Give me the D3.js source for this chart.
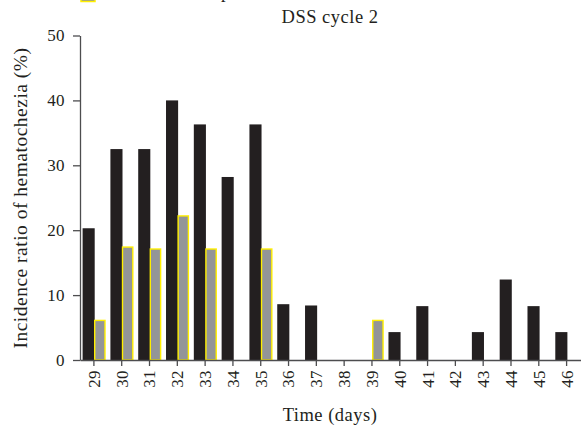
<!DOCTYPE html>
<meta charset='utf-8'>
<html>
  <style>
    body { margin: 0; background: #fff; }
    text { font-family: "Liberation Serif", "Times New Roman", serif; fill: #231f20; }
    .axis path, .axis line { stroke: #4d4d4f; stroke-width: 1.3px; }
    .axis text { font-size: 17px; fill: #231f20; letter-spacing: 0.4px; }
    .lbl { font-size: 18.5px; letter-spacing: 0.5px; }
  </style>
  <head>
    <script src="https://cdn.jsdelivr.net/npm/d3@7/dist/d3.min.js"></script>
  </head>
  <body>
    <div id="chart"></div>
    <script type="text/javascript">
      var days = [29,30,31,32,33,34,35,36,37,38,39,40,41,42,43,44,45,46],
        dssOnly = [20.3,32.5,32.5,40,36.3,28.2,36.3,8.6,8.4,0,0,4.3,8.3,0,4.3,12.4,8.3,4.3],
        treated = [6.1,17.4,17.1,22.2,17.1,0,17.1,0,0,0,6.1,0,0,0,0,0,0,0],
        yTicks = [0,10,20,30,40,50],
        series = ["dss", "treated"];

      var width = 581, height = 436;
      var svg = d3.select("#chart").append("svg")
        .attr("width", width)
        .attr("height", height);

      var x = d3.scaleBand().domain(days).range([80, 580.5]);
      var sub = d3.scaleBand().domain(series).range([2.6, 25.6]);
      var y = d3.scaleLinear().domain([0, 50]).range([360, 35.5]);

      var rows = days.map(function(d, i) {
        return {day: d, dss: dssOnly[i], treated: treated[i]};
      });

      // legend (cut off at the top of the figure, as in the source)
      svg.append("rect")
        .attr("x", 81).attr("y", -12)
        .attr("width", 14).attr("height", 13.5)
        .style("fill", "#939598")
        .style("stroke", "#ffef00")
        .style("stroke-width", 1.5);
      svg.append("text")
        .attr("class", "lbl")
        .attr("x", 131).attr("y", -2)
        .text("DSS + compound");

      svg.append("text")
        .attr("class", "lbl")
        .attr("x", 330).attr("y", 23)
        .attr("text-anchor", "middle")
        .text("DSS cycle 2");

      var g = svg.selectAll(".day").data(rows).enter().append("g")
        .attr("class", "day")
        .attr("transform", function(d) { return "translate(" + x(d.day) + ",0)"; });

      g.filter(function(d) { return d.dss > 0; }).append("rect")
        .attr("x", sub("dss"))
        .attr("width", sub.bandwidth() + 0.6)
        .attr("y", function(d) { return y(d.dss); })
        .attr("height", function(d) { return y(0) - y(d.dss); })
        .style("fill", "#231f20");

      g.filter(function(d) { return d.treated > 0; }).append("rect")
        .attr("x", sub("treated") + 0.6)
        .attr("width", sub.bandwidth() - 1.2)
        .attr("y", function(d) { return y(d.treated); })
        .attr("height", function(d) { return y(0) - y(d.treated); })
        .style("fill", "#939598")
        .style("stroke", "#ffef00")
        .style("stroke-width", 1.4);

      svg.append("g")
        .attr("class", "axis")
        .attr("transform", "translate(0,360)")
        .call(d3.axisBottom(x).tickSize(6).tickSizeOuter(0))
        .attr("font-family", "Liberation Serif, serif")
        .selectAll("text")
          .attr("transform", "rotate(-90)")
          .attr("x", -10)
          .attr("y", 0)
          .attr("dy", "0.35em")
          .style("text-anchor", "end");

      svg.append("g")
        .attr("class", "axis")
        .attr("transform", "translate(80,0)")
        .call(d3.axisLeft(y).tickValues(yTicks).tickSize(7).tickSizeOuter(0).tickPadding(8))
        .attr("font-family", "Liberation Serif, serif");

      svg.selectAll(".axis .domain").style("fill", "none");

      svg.append("text")
        .attr("class", "lbl")
        .attr("transform", "translate(27,198) rotate(-90)")
        .attr("text-anchor", "middle")
        .style("font-size", "19.5px")
        .text("Incidence ratio of hematochezia (%)");

      svg.append("text")
        .attr("class", "lbl")
        .attr("x", 330).attr("y", 421)
        .attr("text-anchor", "middle")
        .text("Time (days)");
    </script>
  </body>
</html>
